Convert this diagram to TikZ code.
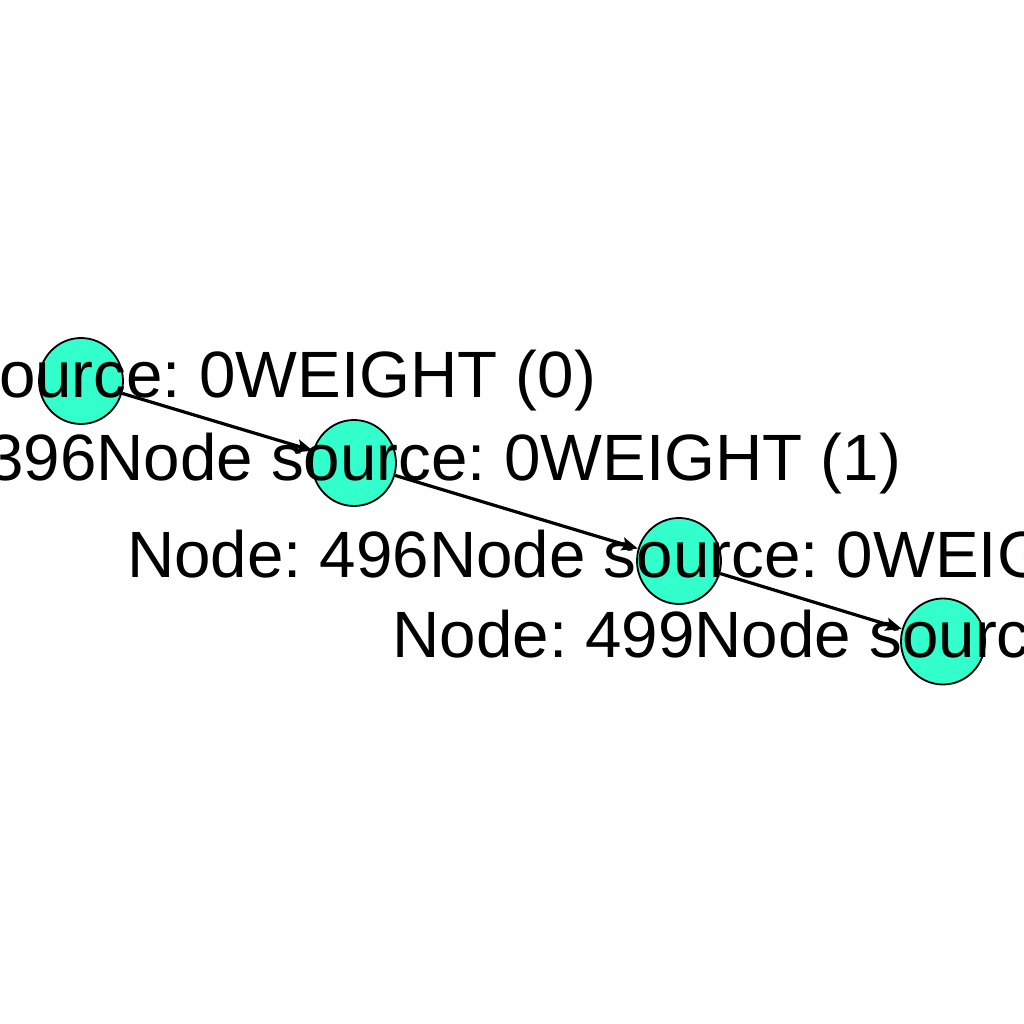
\documentclass[tikz,border=0pt]{standalone}
\usepackage{fontspec}
\setmainfont{Liberation Sans}
\usetikzlibrary{shapes.geometric,arrows.meta}
\definecolor{nodefill}{RGB}{51,255,204}
\tikzset{
  vnode/.style={ellipse, draw=black, line width=1.8pt, fill=nodefill,
    minimum width=84pt, minimum height=86pt, inner sep=0pt},
  edge/.style={draw=black, line width=3.2pt,
    -{Stealth[length=16pt,width=13pt,inset=3pt]}},
  lbl/.style={inner sep=0pt, outer sep=0pt,
    font=\fontsize{65.5}{78}\selectfont\frenchspacing, text=black}
}
\begin{document}
\begin{tikzpicture}[x=1pt,y=-1pt]
\useasboundingbox (0,0) rectangle (1024,1024);
\fill[white] (0,0) rectangle (1024,1024);
\clip (0,0) rectangle (1024,1024);
\node[vnode] (n1) at (81,381) {};
\node[vnode] (n2) at (354,463) {};
\node[vnode] (n3) at (679,561) {};
\node[vnode] (n4) at (943,641.5) {};
\draw[edge] (n1) -- (n2);
\draw[edge] (n2) -- (n3);
\draw[edge] (n3) -- (n4);
\node[lbl, anchor=base east] (l1) at (596,397) {source: 0WEIGHT (0)};
\node[lbl, anchor=base east] (l2) at (901,480) {396Node source: 0WEIGHT (1)};
\node[lbl, anchor=base west] (l3) at (127,577) {Node: 496Node source: 0WEIG};
\node[lbl, anchor=base west] (l4) at (392.5,657) {Node: 499Node sourc};
\end{tikzpicture}
\end{document}
